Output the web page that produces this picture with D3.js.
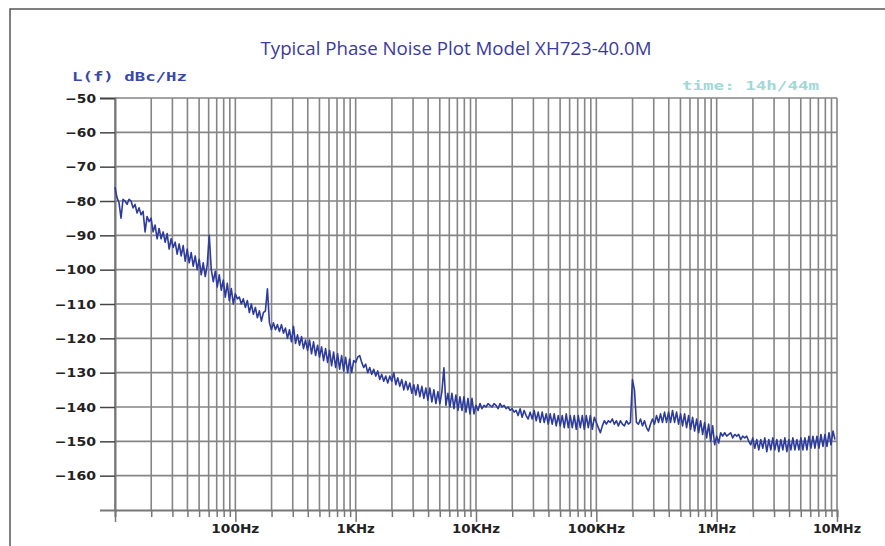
<!DOCTYPE html>
<html>
<head>
<meta charset="utf-8">
<script src="https://cdn.jsdelivr.net/npm/d3@7"></script>
<style>
  html, body { margin: 0; padding: 0; background: #fff; }
  svg { display: block; }
</style>
</head>
<body>
<div id="chart"></div>
<script>
// offsets (Hz), one list of dBc/Hz readings per decade
const decadeStarts = [10, 100, 1e3, 1e4, 1e5, 1e6];

const noiseDec1 = [-76, -79, -80.5, -85, -79.5, -80, -81, -79.5, -80, -82, -81, -83.5, -82, -84, -83, -89, -84.5, -86, -85, -89,
  -87, -91, -88, -91, -89, -92, -89.5, -94, -91, -93.5, -92, -95.5, -92.5, -96, -93, -97.5, -94, -98, -95, -99,
  -96, -100, -97, -101.5, -98, -102, -98.5, -90, -100, -103.5, -100.5, -105, -101.5, -106, -103, -108, -104, -109, -105.5, -110];

const noiseDec2 = [-107, -108.5, -108, -110, -108.5, -111, -109, -112.5, -110, -113, -111, -114, -112, -115, -112.5, -112, -105.6, -115.5, -117.5, -115.5,
  -117.5, -116, -118, -116, -118.5, -117, -120, -117.5, -121, -116.5, -121.5, -119, -122, -119.5, -123, -120.5, -123.5, -120.5, -124.5, -121,
  -125, -122, -125.5, -122.5, -126.5, -123, -127, -123.5, -128, -124, -128.5, -124.5, -129, -125, -129.5, -125.5, -130, -126, -130, -126.5];

const noiseDec3 = [-127, -125.5, -125, -127, -128.5, -127.5, -130, -128.5, -130.5, -129, -131, -129.5, -132, -130.5, -132.5, -131, -133, -131, -132.5, -130,
  -133.5, -131.5, -134, -132, -135, -132.5, -135, -133, -136, -133.5, -136.5, -133.5, -137, -134, -137.5, -134.5, -138, -134.5, -138.5, -135,
  -139, -135.5, -139, -135.5, -128.6, -139.5, -136, -140, -136, -140.5, -136.5, -141, -137, -141, -137, -141.5, -137.5, -142, -137.5, -142];

const noiseDec4 = [-139.5, -141, -139, -140.5, -139.5, -140, -139, -139.5, -140, -139, -139.5, -140.5, -139, -140, -139.5, -140.5, -140, -141, -140.5, -141.5,
  -141, -142.5, -140.5, -143, -141, -142.5, -143.5, -141.5, -143.5, -141, -144, -141.5, -144.5, -141.5, -144.5, -142, -145, -142, -145, -142,
  -145.5, -142.5, -145.5, -142.5, -146, -142, -146, -142.5, -146, -142.5, -146.5, -142.5, -146, -142.5, -146.5, -142.5, -146, -142.5, -146.5, -143];

const noiseDec5 = [-144.5, -146, -147.5, -145.5, -144, -145, -144, -144.5, -143.5, -145, -144, -145.5, -144, -145, -145.5, -144, -145, -144.5, -132, -135,
  -144.5, -145, -143.5, -145.5, -144, -146, -147, -145, -143.5, -145, -142.5, -144.5, -142, -144.5, -141.5, -144.5, -141.5, -144.5, -141, -144.5,
  -141.5, -145, -142, -145.5, -142, -146, -142.5, -146.5, -143, -147, -143.5, -147.5, -144, -148, -144.5, -149, -145, -150, -145.5, -151];

const noiseDec6 = [-148.5, -150.5, -147.5, -148.5, -147.5, -148.5, -148, -147.5, -149, -148, -148.5, -148, -149.5, -148.5, -149, -148.5, -150, -151, -149, -152,
  -149.5, -152.5, -149.5, -152, -149, -153, -149.5, -152.5, -149, -152.5, -149.5, -153, -149.5, -152.5, -149, -153, -149.5, -152.5, -149, -152.5,
  -149.5, -152.5, -149, -152.5, -149, -152.5, -148.5, -152, -148.5, -152, -148.5, -152, -148, -151.5, -148, -151.5, -147.5, -151, -147, -149.5];

const noiseByDecade = [noiseDec1, noiseDec2, noiseDec3, noiseDec4, noiseDec5, noiseDec6];

const yTicks = [-50, -60, -70, -80, -90, -100, -110, -120, -130, -140, -150, -160];
const xLabelFreqs = [1e2, 1e3, 1e4, 1e5, 1e6, 1e7];
const xLabels = ["100Hz", "1KHz", "10KHz", "100KHz", "1MHz", "10MHz"];

const titleText = "Typical Phase Noise Plot Model XH723-40.0M";
const yUnitText = "L(f) dBc/Hz";
const timeText = "time: 14h/44m";

const svgWidth = 885;
const svgHeight = 546;
const margin = {top: 98, right: 48, bottom: 36, left: 115};

// build the trace: each decade's readings are spread evenly across that decade
const trace = [];
noiseByDecade.forEach((vals, d) => {
  vals.forEach((v, i) => {
    trace.push({f: decadeStarts[d] * Math.pow(10, i / vals.length), v: v});
  });
});

// every 1..9 x decade gets a grid line
const gridFreqs = [];
decadeStarts.forEach(s => { for (let k = 1; k <= 9; k++) gridFreqs.push(k * s); });
gridFreqs.push(1e7);

const xScale = d3.scaleLog()
  .domain([10, 1e7])
  .range([margin.left, svgWidth - margin.right]);

const yScale = d3.scaleLinear()
  .domain([-170, -50])
  .range([svgHeight - margin.bottom, margin.top]);

const svg = d3.select("#chart")
  .append("svg")
  .attr("width", svgWidth)
  .attr("height", svgHeight);

// outer frame, runs off the right and bottom edge like the scan
svg.append("rect")
  .attr("x", 10).attr("y", 9)
  .attr("width", 900).attr("height", 600)
  .attr("fill", "none")
  .attr("stroke", "#555")
  .attr("stroke-width", 1.5);

const plotBottom = svgHeight - margin.bottom;
const plotRight = svgWidth - margin.right;

// vertical grid
svg.append("g")
  .selectAll("line")
  .data(gridFreqs)
  .enter()
  .append("line")
    .attr("x1", d => xScale(d))
    .attr("x2", d => xScale(d))
    .attr("y1", margin.top)
    .attr("y2", plotBottom)
    .attr("stroke", "#858585")
    .attr("stroke-width", 1.6);

// horizontal grid
svg.append("g")
  .selectAll("line")
  .data(yTicks)
  .enter()
  .append("line")
    .attr("x1", margin.left)
    .attr("x2", plotRight)
    .attr("y1", d => yScale(d))
    .attr("y2", d => yScale(d))
    .attr("stroke", "#858585")
    .attr("stroke-width", 1.6);

// bottom axis with little ticks below
const xAxis = d3.axisBottom(xScale)
  .tickValues(gridFreqs)
  .tickSize(7)
  .tickFormat("");

const xAxisG = svg.append("g")
  .attr("transform", `translate(0, ${plotBottom})`)
  .call(xAxis);
xAxisG.select(".domain").attr("stroke", "#777").attr("stroke-width", 2);
xAxisG.selectAll(".tick line")
  .attr("stroke", "#777")
  .attr("stroke-width", 1.5)
  .attr("y2", d => (Math.abs(Math.log10(d) % 1) < 1e-9 ? 12 : 7));

xAxisG.selectAll(".xlab")
  .data(xLabelFreqs)
  .enter()
  .append("text")
    .attr("class", "xlab")
    .attr("x", d => xScale(d))
    .attr("y", 23)
    .attr("text-anchor", "middle")
    .attr("fill", "#222")
    .attr("font-family", "DejaVu Sans")
    .attr("font-weight", "bold")
    .attr("font-size", "12px")
    .attr("textLength", (d, i) => xLabels[i].length * 9.6)
    .attr("lengthAdjust", "spacingAndGlyphs")
    .text((d, i) => xLabels[i]);

// left axis
const yAxis = d3.axisLeft(yScale)
  .tickValues(yTicks)
  .tickSize(15)
  .tickPadding(4)
  .tickFormat(d => "\u2212" + Math.abs(d));

const yAxisG = svg.append("g")
  .attr("transform", `translate(${margin.left}, 0)`)
  .call(yAxis);
yAxisG.select(".domain").attr("stroke", "#777").attr("stroke-width", 2);
yAxisG.selectAll(".tick line").attr("stroke", "#444").attr("stroke-width", 1.5);
yAxisG.selectAll(".tick text")
  .attr("fill", "#222")
  .attr("font-family", "DejaVu Sans")
  .attr("font-weight", "bold")
  .attr("font-size", "12.5px")
  .attr("textLength", d => String(Math.abs(d)).length * 10.4 + 10)
  .attr("lengthAdjust", "spacingAndGlyphs");

// phase noise trace
const line = d3.line()
  .x(d => xScale(d.f))
  .y(d => yScale(d.v));

svg.append("path")
  .datum(trace)
  .attr("d", line)
  .attr("fill", "none")
  .attr("stroke", "#2c3b9c")
  .attr("stroke-width", 1.6)
  .attr("stroke-linejoin", "round");

// texts
svg.append("text")
  .attr("x", 456)
  .attr("y", 55)
  .attr("text-anchor", "middle")
  .attr("fill", "#3a3a9c")
  .attr("font-family", "Open Sans")
  .attr("font-size", "17.5px")
  .attr("textLength", 391)
  .attr("lengthAdjust", "spacingAndGlyphs")
  .text(titleText);

svg.append("text")
  .attr("x", 72)
  .attr("y", 81)
  .attr("fill", "#3848a8")
  .attr("font-family", "DejaVu Sans Mono")
  .attr("font-weight", "bold")
  .attr("font-size", "12px")
  .attr("textLength", 115)
  .attr("lengthAdjust", "spacingAndGlyphs")
  .text(yUnitText);

svg.append("text")
  .attr("x", 682)
  .attr("y", 90)
  .attr("fill", "#a2d8d8")
  .attr("font-family", "DejaVu Sans Mono")
  .attr("font-weight", "bold")
  .attr("font-size", "12px")
  .attr("textLength", 137)
  .attr("lengthAdjust", "spacingAndGlyphs")
  .text(timeText);
</script>
</body>
</html>
